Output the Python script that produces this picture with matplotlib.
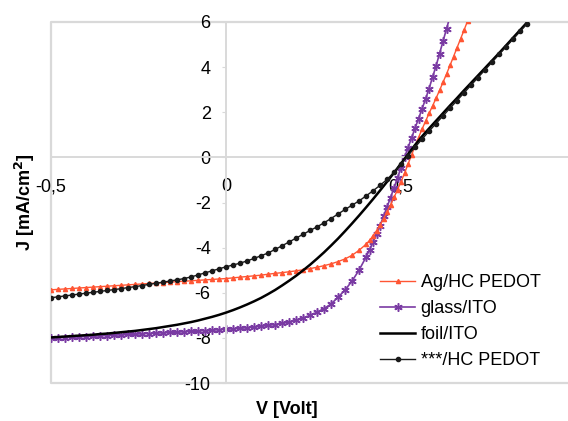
import numpy as np
import matplotlib
matplotlib.use('Agg')
import matplotlib.pyplot as plt

plt.rcParams['font.family'] = ['Liberation Sans', 'DejaVu Sans']
plt.rcParams['axes.unicode_minus'] = False

# voltage sweep: 0.02 V steps, 0.01 V steps in the steep part
v_coarse = np.round(np.arange(-0.50, 0.39, 0.02), 2)
v_fine = np.round(np.arange(0.40, 0.695, 0.01), 2)
v_long = np.round(np.arange(-0.50, 0.89, 0.02), 2)

# Ag/HC PEDOT
j_ag = [-5.87, -5.85, -5.83, -5.81, -5.79, -5.77, -5.75, -5.73, -5.71, -5.69,
        -5.67, -5.65, -5.63, -5.61, -5.59, -5.57, -5.55, -5.53, -5.51, -5.49,
        -5.47, -5.45, -5.43, -5.41, -5.39, -5.37,
        -5.34, -5.31, -5.28, -5.25, -5.22, -5.18, -5.14, -5.11, -5.07, -5.03,
        -4.98, -4.93, -4.87, -4.80, -4.72, -4.62, -4.50, -4.34, -4.12,
        -3.85, -3.68, -3.48, -3.25, -3.00, -2.72, -2.42, -2.10, -1.77, -1.43,
        -1.08, -0.70, -0.30, 0.10, 0.50, 0.88, 1.25, 1.60, 1.95, 2.28,
        2.62, 2.97, 3.33, 3.70, 4.08, 4.47, 4.86, 5.25, 5.64, 6.04]

# glass/ITO
j_glass = [-8.02, -8.00, -7.99, -7.97, -7.96, -7.94, -7.93, -7.91, -7.90, -7.88,
           -7.87, -7.85, -7.84, -7.82, -7.81, -7.79, -7.78, -7.76, -7.75, -7.73,
           -7.71, -7.70, -7.68, -7.66, -7.64, -7.62,
           -7.60, -7.58, -7.55, -7.52, -7.49, -7.45, -7.41, -7.36, -7.30, -7.22,
           -7.12, -7.00, -6.86, -6.70, -6.50, -6.20, -5.88, -5.48, -5.00,
           -4.42, -4.10, -3.75, -3.40, -3.02, -2.62, -2.20, -1.78, -1.35, -0.90,
           -0.45, 0.00, 0.43, 0.86, 1.29, 1.72, 2.15, 2.58, 3.05, 3.55,
           4.05, 4.60, 5.15, 5.70, 6.25]

# foil/ITO
j_foil = [-7.98, -7.96, -7.94, -7.92, -7.90, -7.88, -7.86, -7.83, -7.81, -7.78,
          -7.75, -7.72, -7.69, -7.65, -7.61, -7.57, -7.52, -7.47, -7.42, -7.36,
          -7.30, -7.23, -7.15, -7.07, -6.98, -6.88,
          -6.77, -6.65, -6.52, -6.38, -6.23, -6.06, -5.88, -5.68, -5.47, -5.25,
          -5.01, -4.76, -4.49, -4.21, -3.91, -3.60, -3.27, -2.93, -2.58, -2.22,
          -1.85, -1.47, -1.08, -0.68, -0.27, 0.14, 0.55, 0.93, 1.28, 1.62,
          1.96, 2.30, 2.63, 2.97, 3.30, 3.63, 3.96, 4.29, 4.62, 4.96,
          5.30, 5.64, 5.98, 6.32]

# ***/HC PEDOT
j_hc = [-6.22, -6.18, -6.14, -6.10, -6.06, -6.02, -5.98, -5.94, -5.90, -5.86,
        -5.82, -5.77, -5.73, -5.68, -5.63, -5.58, -5.53, -5.48, -5.43, -5.37,
        -5.30, -5.21, -5.12, -5.03, -4.94, -4.85,
        -4.77, -4.69, -4.59, -4.48, -4.36, -4.24, -4.08, -3.92, -3.75, -3.58,
        -3.41, -3.24, -3.08, -2.90, -2.71, -2.51, -2.31, -2.12, -1.93, -1.71,
        -1.48, -1.24, -0.98, -0.66, -0.30, 0.08, 0.45, 0.81, 1.16, 1.50,
        1.84, 2.18, 2.52, 2.86, 3.20, 3.54, 3.88, 4.22, 4.56, 4.90,
        5.24, 5.58, 5.92, 6.26]

labels = ['Ag/HC PEDOT', 'glass/ITO', 'foil/ITO', '***/HC PEDOT']
xtick_vals = [-0.5, 0, 0.5]
xtick_text = ['-0,5', '0', '0,5']
ytick_vals = [-10, -8, -6, -4, -2, 0, 2, 4, 6]

v_short = np.concatenate([v_coarse, v_fine])

grey = '#d9d9d9'

fig = plt.figure(figsize=(5.68, 4.21), dpi=100)
ax = fig.add_axes([51 / 568, 38 / 421, 517 / 568, 361 / 421])
ax.set_xlim(-0.5, 0.977)
ax.set_ylim(-10, 6)

# plot area border (no right side visible)
ax.plot([1, 0, 0, 1], [1, 1, 0, 0], transform=ax.transAxes, color=grey,
        lw=1.6, clip_on=False, zorder=0)

ax.plot(v_short[:len(j_ag)], j_ag, color='#ff5533', lw=1.0, marker='^',
        ms=3, label=labels[0], zorder=3)
ax.plot(v_short[:len(j_glass)], j_glass, color='#7a3ba3', lw=1.2,
        marker=(6, 2, 0), ms=6, mew=1.1, label=labels[1], zorder=2)
ax.plot(v_long[:len(j_foil)], j_foil, color='black', lw=1.8,
        label=labels[2], zorder=4)
ax.plot(v_long[:len(j_hc)], j_hc, color='#1a1a1a', lw=1.0, marker='o',
        ms=3, label=labels[3], zorder=4)

for side in ['top', 'right']:
    ax.spines[side].set_visible(False)
ax.spines['left'].set_position(('data', 0))
ax.spines['bottom'].set_position(('data', 0))
ax.spines['left'].set_color(grey)
ax.spines['bottom'].set_color(grey)
ax.spines['left'].set_linewidth(1.4)
ax.spines['bottom'].set_linewidth(1.4)

ax.set_xticks(xtick_vals)
ax.set_xticklabels(xtick_text)
ax.set_yticks(ytick_vals)
ax.tick_params(axis='y', direction='out', length=3, color=grey, pad=8,
               labelsize=13)
ax.tick_params(axis='x', direction='out', length=0, pad=15, labelsize=13)

fig.text(287 / 568, 1 - 410 / 421, 'V [Volt]', fontsize=13, fontweight='bold',
         ha='center', va='center')
fig.text(25 / 568, 1 - 202 / 421, 'J [mA/cm$^\\mathbf{2}$]', fontsize=13,
         fontweight='bold', rotation=90, ha='center', va='center')

ax.legend(loc='upper left', bbox_to_anchor=(380 / 568, 1 - 274 / 421),
          bbox_transform=fig.transFigure, frameon=False, fontsize=13,
          handlelength=1.95, handletextpad=0.3, labelspacing=0.5,
          borderpad=0, borderaxespad=0)

fig.savefig('out.png', dpi=100)
